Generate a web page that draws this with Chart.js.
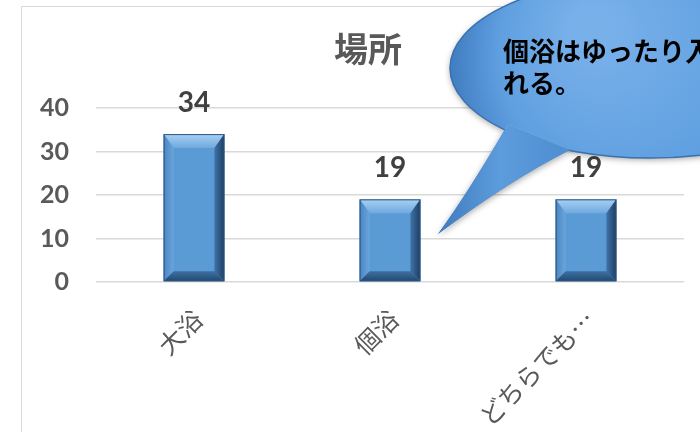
<!DOCTYPE html>
<html>
<head>
<meta charset="utf-8">
<script src="https://cdn.jsdelivr.net/npm/chart.js@4.4.1/dist/chart.umd.min.js"></script>
<style>
  html, body { margin: 0; padding: 0; background: #fff; overflow: hidden; }
  #wrap { position: relative; width: 700px; height: 432px; overflow: hidden; }
  #frame { position: absolute; left: 21px; top: 6px; width: 900px; height: 600px; border: 1px solid #d9d9d9; }
  #chart { position: absolute; left: 0; top: 0; }
</style>
</head>
<body>
<div id="wrap">
  <div id="frame"></div>
  <canvas id="chart" width="700" height="432"></canvas>
</div>
<script>
// data
const categories = ["大浴", "個浴", "どちらでも…"];
const counts = [34, 19, 19];
const yTicks = [0, 10, 20, 30, 40];
const chartTitle = "場所";
const calloutLines = ["個浴はゆったり入", "れる。"];

const numFont = "Lato, 'Liberation Sans', sans-serif";
const jpFont = "'Noto Sans CJK JP', sans-serif";

// bevel look for the bars
const bevelBars = {
  id: "bevelBars",
  afterDatasetsDraw(chart) {
    const ctx = chart.ctx;
    chart.getDatasetMeta(0).data.forEach(bar => {
      const l = bar.x - bar.width / 2, r = bar.x + bar.width / 2;
      const t = bar.y, b = bar.base;
      const bv = 10, bt = 14;
      ctx.save();
      // top
      let g = ctx.createLinearGradient(0, t, 0, t + bt);
      g.addColorStop(0, "#a9d0f3");
      g.addColorStop(1, "#6ea9df");
      ctx.fillStyle = g;
      ctx.beginPath();
      ctx.moveTo(l, t); ctx.lineTo(r, t); ctx.lineTo(r - bv, t + bt); ctx.lineTo(l + bv, t + bt); ctx.closePath();
      ctx.fill();
      // left
      g = ctx.createLinearGradient(l, 0, l + bv, 0);
      g.addColorStop(0, "#4a85c0");
      g.addColorStop(1, "#6aa5dc");
      ctx.fillStyle = g;
      ctx.beginPath();
      ctx.moveTo(l, t); ctx.lineTo(l + bv, t + bt); ctx.lineTo(l + bv, b - bv); ctx.lineTo(l, b); ctx.closePath();
      ctx.fill();
      // right
      g = ctx.createLinearGradient(r - bv, 0, r, 0);
      g.addColorStop(0, "#3f74aa");
      g.addColorStop(1, "#1d3d5e");
      ctx.fillStyle = g;
      ctx.beginPath();
      ctx.moveTo(r, t); ctx.lineTo(r - bv, t + bt); ctx.lineTo(r - bv, b - bv); ctx.lineTo(r, b); ctx.closePath();
      ctx.fill();
      // bottom
      g = ctx.createLinearGradient(0, b - bv, 0, b);
      g.addColorStop(0, "#3c6fa3");
      g.addColorStop(1, "#24496e");
      ctx.fillStyle = g;
      ctx.beginPath();
      ctx.moveTo(l, b); ctx.lineTo(l + bv, b - bv); ctx.lineTo(r - bv, b - bv); ctx.lineTo(r, b); ctx.closePath();
      ctx.fill();
      ctx.strokeStyle = "#2a5582";
      ctx.lineWidth = 1;
      ctx.strokeRect(l + 0.5, t + 0.5, bar.width - 1, b - t - 1);
      ctx.restore();
    });
  }
};

// value labels above bars
const valueLabels = {
  id: "valueLabels",
  afterDatasetsDraw(chart) {
    const ctx = chart.ctx;
    ctx.save();
    ctx.font = "bold 28px " + numFont;
    ctx.fillStyle = "#404040";
    ctx.textAlign = "center";
    ctx.textBaseline = "bottom";
    chart.getDatasetMeta(0).data.forEach((bar, i) => {
      ctx.fillText(String(counts[i]), bar.x, bar.y - 17);
    });
    ctx.restore();
  }
};

// title + callout bubble
const extras = {
  id: "extras",
  afterDraw(chart) {
    const ctx = chart.ctx;
    ctx.save();
    ctx.font = "bold 34px " + jpFont;
    ctx.fillStyle = "#595959";
    ctx.textAlign = "center";
    ctx.textBaseline = "middle";
    ctx.fillText(chartTitle, 368, 49);

    // bubble
    const cx = 650, cy = 68, rx = 200, ry = 90;
    const tail = () => {
      ctx.moveTo(508, 124);
      ctx.quadraticCurveTo(470, 190, 438, 234);
      ctx.quadraticCurveTo(510, 180, 570, 150);
      ctx.closePath();
    };
    const g = ctx.createRadialGradient(cx - 60, cy - 40, 20, cx, cy, rx);
    g.addColorStop(0, "#78b0ea");
    g.addColorStop(0.6, "#5f9fe0");
    g.addColorStop(1, "#3f7cc0");
    ctx.fillStyle = g;

    ctx.beginPath();
    ctx.ellipse(cx, cy, rx, ry, 0, 0, Math.PI * 2);
    tail();
    ctx.shadowColor = "rgba(0,0,0,0.35)";
    ctx.shadowBlur = 6;
    ctx.shadowOffsetY = 2;
    ctx.fill();
    ctx.shadowColor = "transparent";

    ctx.beginPath();
    ctx.ellipse(cx, cy, rx, ry, 0, 0, Math.PI * 2);
    ctx.strokeStyle = "#3a70ad";
    ctx.lineWidth = 1.5;
    ctx.stroke();

    // tail over the ellipse rim
    const tg = ctx.createLinearGradient(440, 0, 560, 0);
    tg.addColorStop(0, "#3f7cc0");
    tg.addColorStop(0.5, "#5d9cdc");
    tg.addColorStop(1, "#4f8fd2");
    ctx.fillStyle = tg;
    ctx.beginPath();
    tail();
    ctx.fill();

    ctx.font = "bold 26px " + jpFont;
    ctx.fillStyle = "#000";
    ctx.textAlign = "left";
    ctx.textBaseline = "middle";
    ctx.fillText(calloutLines[0], 503, 51);
    ctx.fillText(calloutLines[1], 503, 83);
    ctx.restore();
  }
};

const ctx = document.getElementById("chart").getContext("2d");
const placeChart = new Chart(ctx, {
  type: "bar",
  data: {
    labels: categories,
    datasets: [{
      data: counts,
      backgroundColor: "#5b9bd5",
      borderWidth: 0,
      categoryPercentage: 1,
      barPercentage: 0.31
    }]
  },
  options: {
    responsive: false,
    animation: false,
    devicePixelRatio: 1,
    layout: { padding: { top: 108, right: 16, left: 0, bottom: 0 } },
    plugins: {
      legend: { display: false },
      tooltip: { enabled: false },
      title: { display: false }
    },
    scales: {
      x: {
        grid: { display: false },
        border: { display: false },
        ticks: {
          color: "#595959",
          font: { family: jpFont, size: 25 },
          minRotation: 45,
          maxRotation: 45,
          padding: 14,
          labelOffset: 4
        },
        afterFit(scale) { scale.height = 150; }
      },
      y: {
        min: yTicks[0],
        max: yTicks[yTicks.length - 1],
        grid: { color: "#d9d9d9", lineWidth: 1.5, drawTicks: false },
        border: { display: false },
        afterBuildTicks(scale) { scale.ticks = yTicks.map(v => ({ value: v })); },
        ticks: {
          color: "#595959",
          font: { family: numFont, size: 25, weight: "bold" },
          padding: 27
        },
        afterFit(scale) { scale.width = 96; }
      }
    }
  },
  plugins: [bevelBars, valueLabels, extras]
});
</script>
</body>
</html>
